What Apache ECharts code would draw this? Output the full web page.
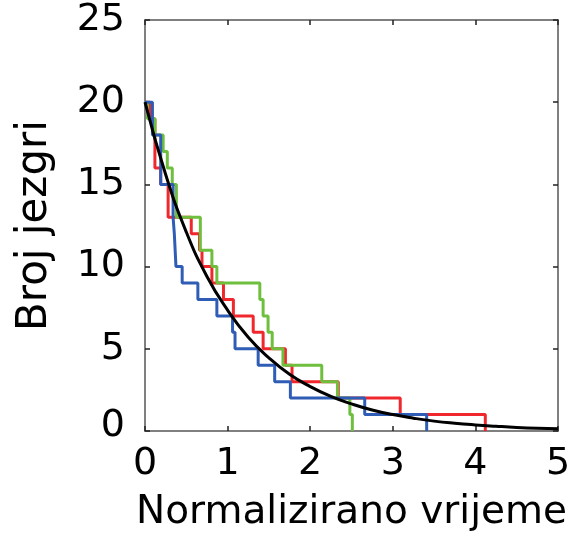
<!DOCTYPE html>
<html><head><meta charset="utf-8">
<script src="https://cdn.jsdelivr.net/npm/echarts@6/dist/echarts.min.js"></script>
<style>html,body{margin:0;padding:0;background:#fff}#c{width:574px;height:537px}</style>
</head><body><div id="c"></div>
<script>
const blueX = [0, 0.09, 0.19, 0.34, 0.355, 0.375, 0.45, 0.64, 0.87, 1.06, 1.09, 1.37, 1.57, 1.76, 2.66, 3.41];
const blueY = [20, 18, 15, 13, 12, 10, 9, 8, 7, 6, 5, 4, 3, 2, 1, 0];
const redX = [0, 0.06, 0.12, 0.19, 0.28, 0.56, 0.66, 0.69, 0.81, 0.95, 1.07, 1.31, 1.43, 1.70, 1.78, 2.34, 3.09, 4.12];
const redY = [20, 19, 16, 15, 13, 12, 11, 10, 9, 8, 7, 6, 5, 4, 3, 2, 1, 0];
const greenX = [0, 0.03, 0.12, 0.22, 0.27, 0.33, 0.38, 0.67, 0.81, 0.87, 1.39, 1.43, 1.49, 1.54, 1.67, 2.14, 2.33, 2.48, 2.51];
const greenY = [20, 19, 18, 17, 16, 15, 13, 11, 10, 9, 8, 7, 6, 5, 4, 3, 2, 1, 0];
const fitX = [0, 0.25, 0.5, 0.75, 1, 1.25, 1.5, 1.75, 2, 2.25, 2.5, 2.75, 3, 3.25, 3.5, 3.75, 4, 4.25, 4.5, 4.75, 5];
const fitY = [20, 15.6, 12.1, 9.4, 7.35, 5.7, 4.45, 3.45, 2.7, 2.1, 1.65, 1.28, 1.0, 0.78, 0.6, 0.47, 0.37, 0.29, 0.22, 0.17, 0.14];
const xTicks = [0, 1, 2, 3, 4, 5];
const yTicks = [0, 5, 10, 15, 20, 25];
const xTitle = 'Normalizirano vrijeme';
const yTitle = 'Broj jezgri';

const zip = (a, b) => a.map((v, i) => [v, b[i]]);
const FONT = 'DejaVu Sans';
const mkLine = () => ({show: true, onZero: false, lineStyle: {color: '#808080', width: 2}});
const mkTick = () => ({show: true, inside: true, length: 5, lineStyle: {color: '#222', width: 1.5}});

const chart = echarts.init(document.getElementById('c'), null, {renderer: 'canvas'});
chart.setOption({
  animation: false,
  backgroundColor: '#fff',
  grid: {left: 145, right: 16, top: 20, bottom: 105, containLabel: false},
  xAxis: [{
    type: 'value', min: xTicks[0], max: xTicks[xTicks.length - 1], interval: 1,
    position: 'bottom',
    axisLine: mkLine(), axisTick: mkTick(), splitLine: {show: false},
    axisLabel: {fontFamily: FONT, fontSize: 38, color: '#000', margin: 14},
    name: xTitle, nameLocation: 'middle', nameGap: 62,
    nameTextStyle: {fontFamily: FONT, fontSize: 39, color: '#000'}
  }, {
    type: 'value', min: 0, max: 5, interval: 1, position: 'top',
    axisLine: mkLine(), axisTick: mkTick(), axisLabel: {show: false}, splitLine: {show: false}
  }],
  yAxis: [{
    type: 'value', min: yTicks[0], max: yTicks[yTicks.length - 1], interval: 5,
    position: 'left',
    axisLine: mkLine(), axisTick: mkTick(), splitLine: {show: false},
    axisLabel: {
      fontFamily: FONT, fontSize: 38, color: '#000', margin: 20,
      formatter: v => v === 0 ? '{z|0}' : String(v),
      rich: {z: {fontFamily: FONT, fontSize: 38, color: '#000', padding: [0, 0, 10, 0]}}
    },
    name: yTitle, nameLocation: 'middle', nameGap: 89,
    nameTextStyle: {fontFamily: FONT, fontSize: 42, color: '#000'}
  }, {
    type: 'value', min: 0, max: 25, interval: 5, position: 'right',
    axisLine: mkLine(), axisTick: mkTick(), axisLabel: {show: false}, splitLine: {show: false}
  }],
  series: [
    {type: 'line', step: 'end', data: zip(redX, redY), showSymbol: false, lineStyle: {color: '#f0282d', width: 3}, z: 2},
    {type: 'line', step: 'end', data: zip(greenX, greenY), showSymbol: false, lineStyle: {color: '#6fbf3f', width: 3}, z: 3},
    {type: 'line', step: 'end', data: zip(blueX, blueY), showSymbol: false, lineStyle: {color: '#2f5db5', width: 3}, z: 4},
    {type: 'line', smooth: true, data: zip(fitX, fitY), showSymbol: false, lineStyle: {color: '#000', width: 3}, z: 5}
  ]
});
</script></body></html>
